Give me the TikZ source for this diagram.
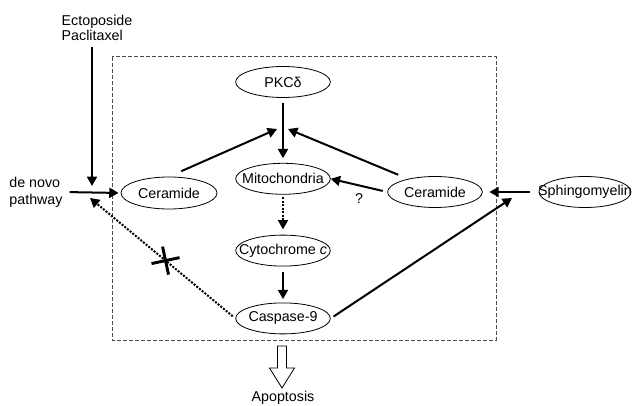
\documentclass[tikz,border=0pt]{standalone}
\usepackage{fontspec}
\setmainfont{Liberation Sans}
\usetikzlibrary{positioning,shapes.geometric,shapes.misc,arrows.meta}
\tikzset{
    cell/.style = {
       shape=ellipse,
       draw,
       line width = 0.6pt,
       minimum width = 71pt,
       minimum height = 23.25pt,
       inner sep = 0pt,
       execute at begin node = \hbox to 0pt\bgroup\hss,
       execute at end node = \hss\egroup
    },
    tag/.style = {
       align = left,
       inner sep = 0pt
    },
    weak/.style = {
       dash pattern = on 1.5pt off 1.1pt
    },
    block/.style = {
       shape = cross out, draw, solid,
       line width = 2.2pt,
       minimum size = 13pt,
       rotate = -33
    }
}
\begin{document}
\begin{tikzpicture}[->,>={Triangle[length=7pt,width=7.5pt]},line width=1.5pt,x=0.75pt,y=-0.75pt,font=\fontsize{10.7}{12.8}\selectfont]
   \useasboundingbox (0,0) rectangle (632,406);
   % dashed frame
   \draw[-,line width=0.75pt,dash pattern=on 3pt off 1.5pt,black!70] (112,57) rectangle (496,340);
   \node[cell] (PKC) at (283,82) {PKCδ};
   \node[cell] (Mitochondria) [below = 48.75pt of PKC] {Mitochondria};
   \node[cell] (Cytochrome) [below = 30pt of Mitochondria] {Cytochrome \emph{c}};
   \node[cell] (Caspase) [below = 27pt of Cytochrome] {Caspase-9};
   \node[cell, minimum width = 72pt, minimum height = 24pt] (CeramideL) at (169,193) {Ceramide};
   \node[cell] (CeramideR) at (435,192) {Ceramide};
   \node[cell, minimum width = 69pt] (Sphingomyelin) at (585,192) {Sphingomyelin};
   \node[tag, font=\fontsize{10.7}{11.4}\selectfont] (Drugs) at (97,28) {Ectoposide\\Paclitaxel};
   \node[tag] (DeNovo) at (36,192) {de novo\\pathway};
   \node (Apoptosis) at (283,398) {Apoptosis};
   \coordinate (Join) at (92,186);
   \coordinate (Back) at (90,198);
   \coordinate (TopL) at (277,129);
   \coordinate (TopR) at (288,129);
   \coordinate (Entry) at (512,198);
   % hollow arrow to Apoptosis
   \draw[-,line width=0.6pt] (277.5,346) -- (286.5,346) -- (286.5,368) -- (294.5,368)
      -- (282,388) -- (269.5,368) -- (277.5,368) -- cycle;
\path
(Drugs.south -| Join) edge[shorten <=4pt] (Join)
(DeNovo.east) edge[shorten <=4.5pt, shorten >=1.5pt] (CeramideL.west)
(PKC) edge[shorten <=4pt, shorten >=3.5pt] (Mitochondria)
(CeramideL.north) edge[shorten <=10pt] (TopL)
(CeramideR.154) edge[shorten <=8pt] (TopR)
(CeramideR.west) edge[shorten <=3.5pt] node[pos=0.5, below=2pt] {?} (Mitochondria.east)
(Mitochondria) edge[weak, shorten <=2pt, shorten >=4pt] (Cytochrome)
(Cytochrome) edge[shorten <=4pt, shorten >=2.5pt] (Caspase)
(Sphingomyelin.west) edge[shorten <=6.75pt, shorten >=5pt] (CeramideR.east)
(Caspase.east) edge[shorten <=2.5pt] (Entry)
(Caspase.west) edge[weak, shorten <=2.5pt] (Back);
\path (Caspase.west) -- node[block, pos=0.48] {} (Back);
\end{tikzpicture}
\end{document}
